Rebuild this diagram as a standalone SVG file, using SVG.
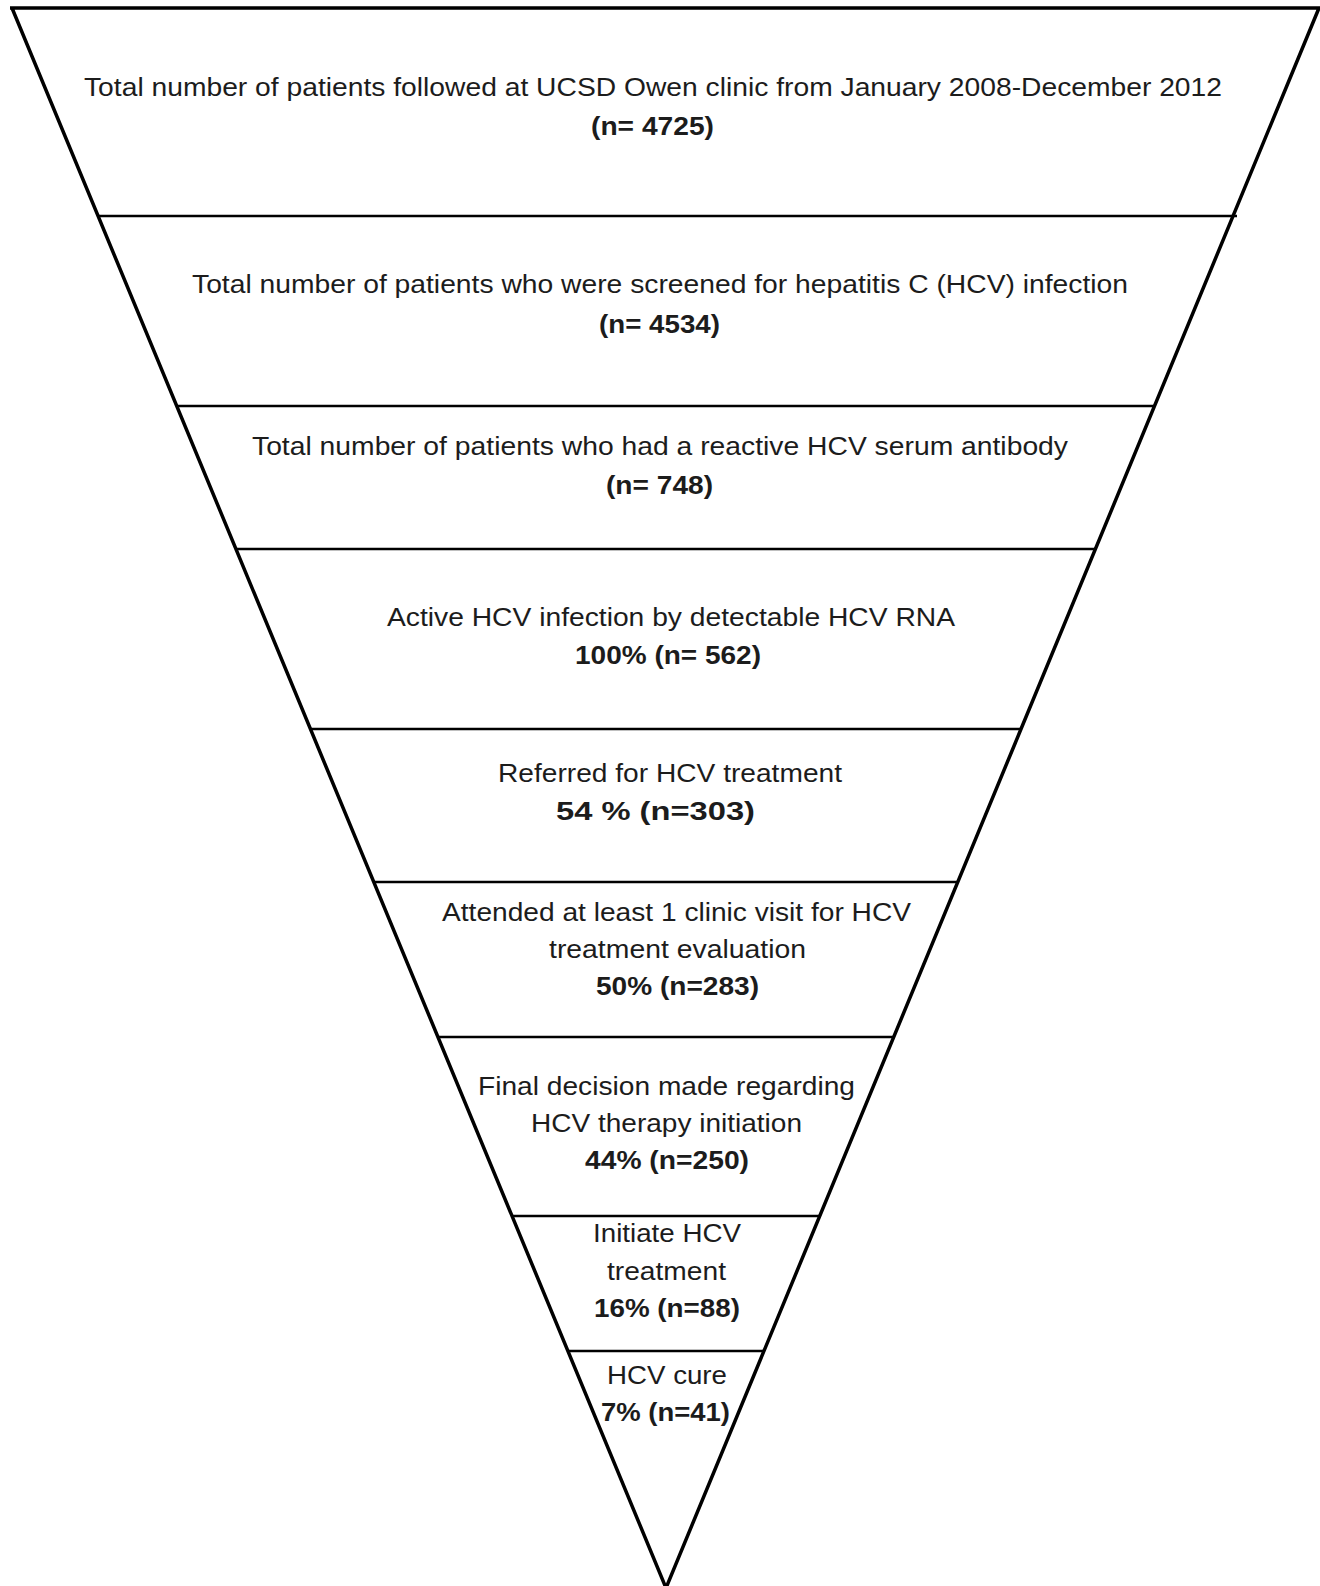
<svg xmlns="http://www.w3.org/2000/svg" width="1320" height="1586" viewBox="0 0 1320 1586">
<style>
.t{font-family:"Liberation Sans",Arial,sans-serif;font-size:26.5px;fill:#1c1c1c;text-anchor:start}
.b{font-weight:bold}
.out{fill:none;stroke:#000;stroke-width:3.5;stroke-linejoin:miter}
.div{stroke:#000;stroke-width:2.4}
</style>
<rect width="1320" height="1586" fill="#fff"/>
<g id="funnel">
<path class="out" d="M10,8 L1319,8 L666,1588 L12,8"/>
</g>
<g id="connectors">
<line class="div" x1="98" y1="216" x2="1237" y2="216"/>
<line class="div" x1="178" y1="406" x2="1154" y2="406"/>
<line class="div" x1="236" y1="549" x2="1095" y2="549"/>
<line class="div" x1="311" y1="729" x2="1020" y2="729"/>
<line class="div" x1="373" y1="882" x2="957" y2="882"/>
<line class="div" x1="438" y1="1037" x2="893" y2="1037"/>
<line class="div" x1="513" y1="1216" x2="819" y2="1216"/>
<line class="div" x1="569" y1="1351" x2="763" y2="1351"/>
</g>
<g id="stage1">
<text class="t" x="84" y="96" textLength="1138" lengthAdjust="spacingAndGlyphs">Total number of patients followed at UCSD Owen clinic from January 2008-December 2012</text>
<text class="t b" x="591" y="135" textLength="123" lengthAdjust="spacingAndGlyphs">(n= 4725)</text>
</g>
<g id="stage2">
<text class="t" x="192" y="293" textLength="936" lengthAdjust="spacingAndGlyphs">Total number of patients who were screened for hepatitis C (HCV) infection</text>
<text class="t b" x="599" y="333" textLength="121" lengthAdjust="spacingAndGlyphs">(n= 4534)</text>
</g>
<g id="stage3">
<text class="t" x="252" y="455" textLength="816" lengthAdjust="spacingAndGlyphs">Total number of patients who had a reactive HCV serum antibody</text>
<text class="t b" x="606" y="494" textLength="107" lengthAdjust="spacingAndGlyphs">(n= 748)</text>
</g>
<g id="stage4">
<text class="t" x="387" y="626" textLength="568" lengthAdjust="spacingAndGlyphs">Active HCV infection by detectable HCV RNA</text>
<text class="t b" x="575" y="664" textLength="186" lengthAdjust="spacingAndGlyphs">100% (n= 562)</text>
</g>
<g id="stage5">
<text class="t" x="498" y="782" textLength="344" lengthAdjust="spacingAndGlyphs">Referred for HCV treatment</text>
<text class="t b" x="556" y="820" textLength="199" lengthAdjust="spacingAndGlyphs">54 % (n=303)</text>
</g>
<g id="stage6">
<text class="t" x="442" y="921" textLength="469" lengthAdjust="spacingAndGlyphs">Attended at least 1 clinic visit for HCV</text>
<text class="t" x="549" y="958" textLength="257" lengthAdjust="spacingAndGlyphs">treatment evaluation</text>
<text class="t b" x="596" y="995" textLength="163" lengthAdjust="spacingAndGlyphs">50% (n=283)</text>
</g>
<g id="stage7">
<text class="t" x="478" y="1095" textLength="377" lengthAdjust="spacingAndGlyphs">Final decision made regarding</text>
<text class="t" x="531" y="1132" textLength="271" lengthAdjust="spacingAndGlyphs">HCV therapy initiation</text>
<text class="t b" x="585" y="1169" textLength="164" lengthAdjust="spacingAndGlyphs">44% (n=250)</text>
</g>
<g id="stage8">
<text class="t" x="593" y="1242" textLength="148" lengthAdjust="spacingAndGlyphs">Initiate HCV</text>
<text class="t" x="607" y="1280" textLength="119" lengthAdjust="spacingAndGlyphs">treatment</text>
<text class="t b" x="594" y="1317" textLength="146" lengthAdjust="spacingAndGlyphs">16% (n=88)</text>
</g>
<g id="stage9">
<text class="t" x="607" y="1384" textLength="120" lengthAdjust="spacingAndGlyphs">HCV cure</text>
<text class="t b" x="601" y="1421" textLength="129" lengthAdjust="spacingAndGlyphs">7% (n=41)</text>
</g>
</svg>
